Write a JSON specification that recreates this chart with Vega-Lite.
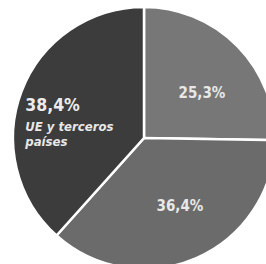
{
  "$schema": "https://vega.github.io/schema/vega-lite/v6.json",
  "autosize": "none",
  "padding": 0,
  "width": 288,
  "height": 276,
  "background": "white",
  "view": {"stroke": null},
  "data": {
    "values": [
      {"idx": 1, "categoria": "Segmento 1", "valor": 25.3, "etiqueta": "25,3%"},
      {"idx": 2, "categoria": "Segmento 2", "valor": 36.4, "etiqueta": "36,4%"},
      {"idx": 3, "categoria": "UE y terceros\npaíses", "valor": 38.4, "etiqueta": "38,4%"}
    ]
  },
  "encoding": {
    "theta": {"field": "valor", "type": "quantitative", "stack": true},
    "order": {"field": "idx", "type": "quantitative"}
  },
  "layer": [
    {
      "mark": {"type": "arc", "outerRadius": 131, "stroke": "white", "strokeWidth": 2.5},
      "encoding": {
        "color": {
          "field": "categoria",
          "type": "nominal",
          "scale": {
            "domain": ["Segmento 1", "Segmento 2", "UE y terceros\npaíses"],
            "range": ["#777777", "#6b6b6b", "#3c3c3c"]
          },
          "legend": null
        }
      }
    },
    {
      "mark": {"type": "text", "fontSize": 15, "fontWeight": "bold", "font": "DejaVu Sans Condensed, sans-serif", "color": "#e8e8e8", "align": "center", "baseline": "middle", "dx": 8, "dy": 4},
      "encoding": {
        "radius": {"condition": {"test": "datum.idx == 1", "value": 78}, "value": 70},
        "text": {"condition": {"test": "datum.idx < 3", "field": "etiqueta"}, "value": ""}
      }
    },
    {
      "mark": {"type": "text", "radius": 110, "fontSize": 17.5, "fontWeight": "bold", "font": "DejaVu Sans Condensed, sans-serif", "color": "#ececec", "align": "left", "baseline": "middle", "dx": -16, "dy": 7},
      "encoding": {"text": {"condition": {"test": "datum.idx == 3", "field": "etiqueta"}, "value": ""}}
    },
    {
      "mark": {"type": "text", "radius": 110, "fontSize": 13, "fontWeight": "bold", "fontStyle": "italic", "font": "DejaVu Sans Condensed, sans-serif", "color": "#e8e8e8", "align": "left", "baseline": "middle", "lineBreak": "\n", "lineHeight": 15, "dx": -16, "dy": 28},
      "encoding": {"text": {"condition": {"test": "datum.idx == 3", "field": "categoria"}, "value": ""}}
    }
  ]
}
